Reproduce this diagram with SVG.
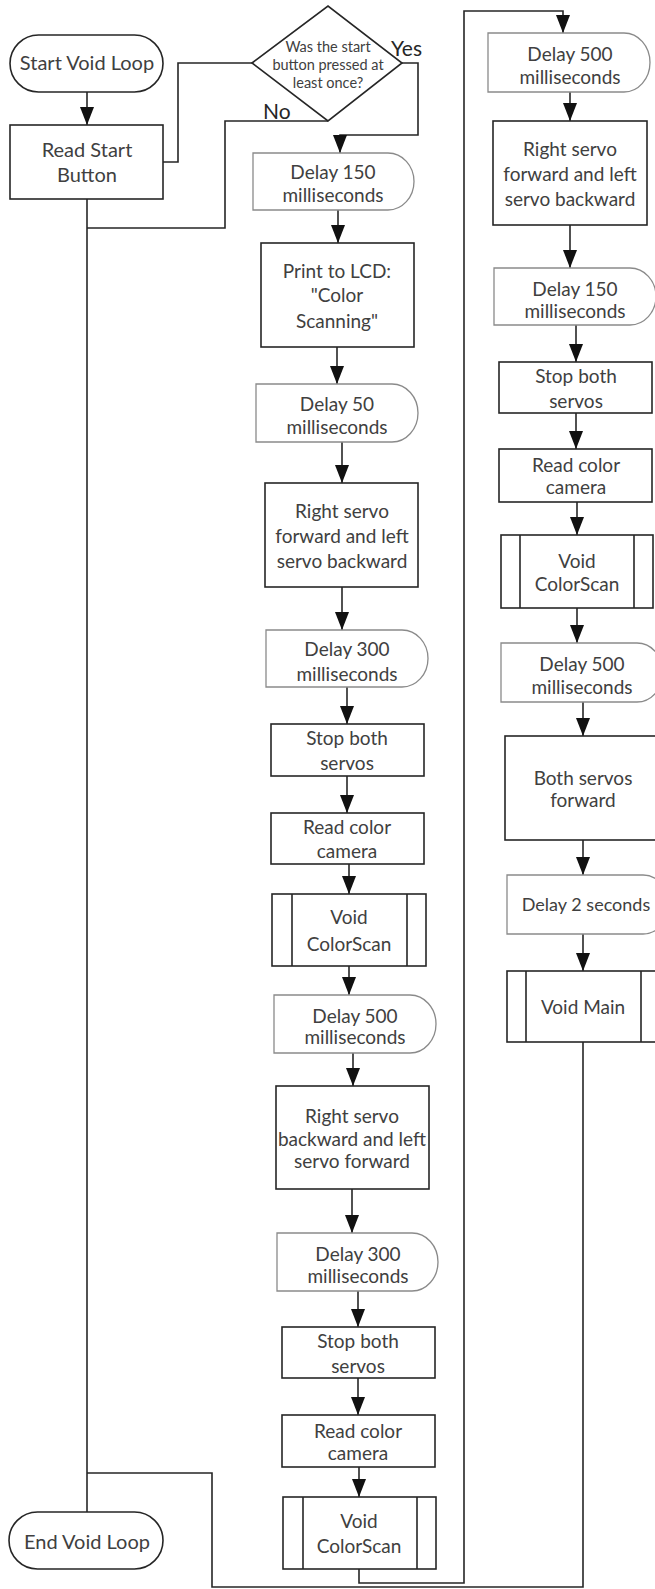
<svg xmlns="http://www.w3.org/2000/svg" width="655" height="1589" viewBox="0 0 655 1589">
<style>
.box{fill:#fff;stroke:#262626;stroke-width:1.6}
.dly{fill:#fff;stroke:#8a8a8a;stroke-width:1.3}
.ln{fill:none;stroke:#262626;stroke-width:1.6}
.t{font-family:Lato,"Liberation Sans",sans-serif;font-size:19px;fill:#404040;text-anchor:middle}
.ts{font-family:Lato,"Liberation Sans",sans-serif;font-size:14.5px;fill:#404040;text-anchor:middle}
.tl{font-family:Lato,"Liberation Sans",sans-serif;font-size:21px;fill:#262626}
</style>
<defs>
<marker id="a" viewBox="0 0 18 14" markerWidth="18" markerHeight="14" refX="18" refY="7" orient="auto" markerUnits="userSpaceOnUse">
<path d="M0,0 L18,7 L0,14 z" fill="#111"/>
</marker>
</defs>
<rect width="655" height="1589" fill="#fff"/>

<g id="connectors">
<path class="ln" d="M87,92 V125" marker-end="url(#a)"/>
<path class="ln" d="M163,162 H178 V63 H252"/>
<path class="ln" d="M328,121 H225 V228 H87"/>
<path class="ln" d="M87,199 V1512"/>
<path class="ln" d="M402,63 H418 V135 H340 V153" marker-end="url(#a)"/>
<path class="ln" d="M338,210 V243" marker-end="url(#a)"/>
<path class="ln" d="M337,347 V384" marker-end="url(#a)"/>
<path class="ln" d="M342,442 V483" marker-end="url(#a)"/>
<path class="ln" d="M342,587 V630" marker-end="url(#a)"/>
<path class="ln" d="M347,687 V724" marker-end="url(#a)"/>
<path class="ln" d="M347,776 V813" marker-end="url(#a)"/>
<path class="ln" d="M349,864 V894" marker-end="url(#a)"/>
<path class="ln" d="M349,966 V995" marker-end="url(#a)"/>
<path class="ln" d="M353,1053 V1086" marker-end="url(#a)"/>
<path class="ln" d="M352,1189 V1233" marker-end="url(#a)"/>
<path class="ln" d="M358,1291 V1327" marker-end="url(#a)"/>
<path class="ln" d="M358,1378 V1415" marker-end="url(#a)"/>
<path class="ln" d="M359,1467 V1497" marker-end="url(#a)"/>
<path class="ln" d="M359,1569 V1583 H464 V11 H563 V33" marker-end="url(#a)"/>
<path class="ln" d="M570,92 V121" marker-end="url(#a)"/>
<path class="ln" d="M570,225 V268" marker-end="url(#a)"/>
<path class="ln" d="M576,325 V362" marker-end="url(#a)"/>
<path class="ln" d="M576,413 V449" marker-end="url(#a)"/>
<path class="ln" d="M577,502 V535" marker-end="url(#a)"/>
<path class="ln" d="M577,608 V643" marker-end="url(#a)"/>
<path class="ln" d="M583,702 V736" marker-end="url(#a)"/>
<path class="ln" d="M583,840 V875" marker-end="url(#a)"/>
<path class="ln" d="M583,934 V971" marker-end="url(#a)"/>
<path class="ln" d="M583,1042 V1587 H212 V1473 H87"/>
</g>

<g id="start"><rect class="box" x="10" y="35" width="153" height="57" rx="28.5"/><text class="t" x="87" y="70" style="font-size:20px">Start Void Loop</text></g>
<g id="readStart"><rect class="box" x="10" y="125" width="153" height="74"/><text class="t" x="87" y="157" style="font-size:20px">Read Start</text><text class="t" x="87" y="182" style="font-size:20px">Button</text></g>
<g id="decision"><polygon class="box" points="252,63 328,6 402,63 328,121"/><text class="ts" x="328" y="52">Was the start</text><text class="ts" x="328" y="70">button pressed at</text><text class="ts" x="328" y="88">least once?</text></g>
<g id="labels"><text class="tl" x="391" y="56">Yes</text><text class="tl" x="263" y="119">No</text></g>
<g id="end"><rect class="box" x="9" y="1512" width="154" height="57" rx="28.5"/><text class="t" x="87" y="1549" style="font-size:20px">End Void Loop</text></g>

<g id="d150a"><path class="dly" d="M253,153 H388 A26,28.5 0 0 1 388,210 H253 Z"/><text class="t" x="333" y="179">Delay 150</text><text class="t" x="333" y="202">milliseconds</text></g>
<g id="print"><rect class="box" x="261" y="243" width="153" height="104"/><text class="t" x="337" y="278">Print to LCD:</text><text class="t" x="337" y="302">"Color</text><text class="t" x="337" y="328">Scanning"</text></g>
<g id="d50"><path class="dly" d="M256,384 H392 A26,29 0 0 1 392,442 H256 Z"/><text class="t" x="337" y="411">Delay 50</text><text class="t" x="337" y="434">milliseconds</text></g>
<g id="rsf1"><rect class="box" x="265" y="483" width="153" height="104"/><text class="t" x="342" y="518">Right servo</text><text class="t" x="342" y="543">forward and left</text><text class="t" x="342" y="568">servo backward</text></g>
<g id="d300a"><path class="dly" d="M266,630 H402 A26,28.5 0 0 1 402,687 H266 Z"/><text class="t" x="347" y="656">Delay 300</text><text class="t" x="347" y="681">milliseconds</text></g>
<g id="stop1"><rect class="box" x="271" y="724" width="153" height="52"/><text class="t" x="347" y="745">Stop both</text><text class="t" x="347" y="770">servos</text></g>
<g id="read1"><rect class="box" x="271" y="813" width="153" height="51"/><text class="t" x="347" y="834">Read color</text><text class="t" x="347" y="858">camera</text></g>
<g id="vcs1"><rect class="box" x="272" y="894" width="154" height="72"/><path class="ln" d="M292,894 V966 M407,894 V966"/><text class="t" x="349" y="924">Void</text><text class="t" x="349" y="951">ColorScan</text></g>
<g id="d500a"><path class="dly" d="M274,995 H410 A26,29 0 0 1 410,1053 H274 Z"/><text class="t" x="355" y="1023">Delay 500</text><text class="t" x="355" y="1044">milliseconds</text></g>
<g id="rsb"><rect class="box" x="276" y="1086" width="153" height="103"/><text class="t" x="352" y="1123">Right servo</text><text class="t" x="352" y="1146">backward and left</text><text class="t" x="352" y="1168">servo forward</text></g>
<g id="d300b"><path class="dly" d="M277,1233 H412 A26,29 0 0 1 412,1291 H277 Z"/><text class="t" x="358" y="1261">Delay 300</text><text class="t" x="358" y="1283">milliseconds</text></g>
<g id="stop2"><rect class="box" x="282" y="1327" width="153" height="51"/><text class="t" x="358" y="1348">Stop both</text><text class="t" x="358" y="1373">servos</text></g>
<g id="read2"><rect class="box" x="282" y="1415" width="153" height="52"/><text class="t" x="358" y="1438">Read color</text><text class="t" x="358" y="1460">camera</text></g>
<g id="vcs2"><rect class="box" x="283" y="1497" width="153" height="72"/><path class="ln" d="M303,1497 V1569 M417,1497 V1569"/><text class="t" x="359" y="1528">Void</text><text class="t" x="359" y="1553">ColorScan</text></g>

<g id="d500r"><path class="dly" d="M488,33 H624 A26,29.5 0 0 1 624,92 H488 Z"/><text class="t" x="570" y="61">Delay 500</text><text class="t" x="570" y="84">milliseconds</text></g>
<g id="rsf2"><rect class="box" x="493" y="121" width="154" height="104"/><text class="t" x="570" y="156">Right servo</text><text class="t" x="570" y="181">forward and left</text><text class="t" x="570" y="206">servo backward</text></g>
<g id="d150r"><path class="dly" d="M494,268 H630 A26,28.5 0 0 1 630,325 H494 Z"/><text class="t" x="575" y="296">Delay 150</text><text class="t" x="575" y="318">milliseconds</text></g>
<g id="stop3"><rect class="box" x="499" y="362" width="153" height="51"/><text class="t" x="576" y="383">Stop both</text><text class="t" x="576" y="408">servos</text></g>
<g id="read3"><rect class="box" x="499" y="449" width="153" height="53"/><text class="t" x="576" y="472">Read color</text><text class="t" x="576" y="494">camera</text></g>
<g id="vcs3"><rect class="box" x="501" y="535" width="152" height="73"/><path class="ln" d="M520,535 V608 M634,535 V608"/><text class="t" x="577" y="568">Void</text><text class="t" x="577" y="591">ColorScan</text></g>
<g id="d500r2"><path class="dly" d="M501,643 H637 A26,29.5 0 0 1 637,702 H501 Z"/><text class="t" x="582" y="671">Delay 500</text><text class="t" x="582" y="694">milliseconds</text></g>
<g id="both"><rect class="box" x="505" y="736" width="156" height="104"/><text class="t" x="583" y="785">Both servos</text><text class="t" x="583" y="807">forward</text></g>
<g id="d2"><path class="dly" d="M507,875 H643 A26,29.5 0 0 1 643,934 H507 Z"/><text class="t" x="586" y="911" style="font-size:18px">Delay 2 seconds</text></g>
<g id="vmain"><rect class="box" x="507" y="971" width="152" height="71"/><path class="ln" d="M526,971 V1042 M641,971 V1042"/><text class="t" x="583" y="1014">Void Main</text></g>
</svg>
